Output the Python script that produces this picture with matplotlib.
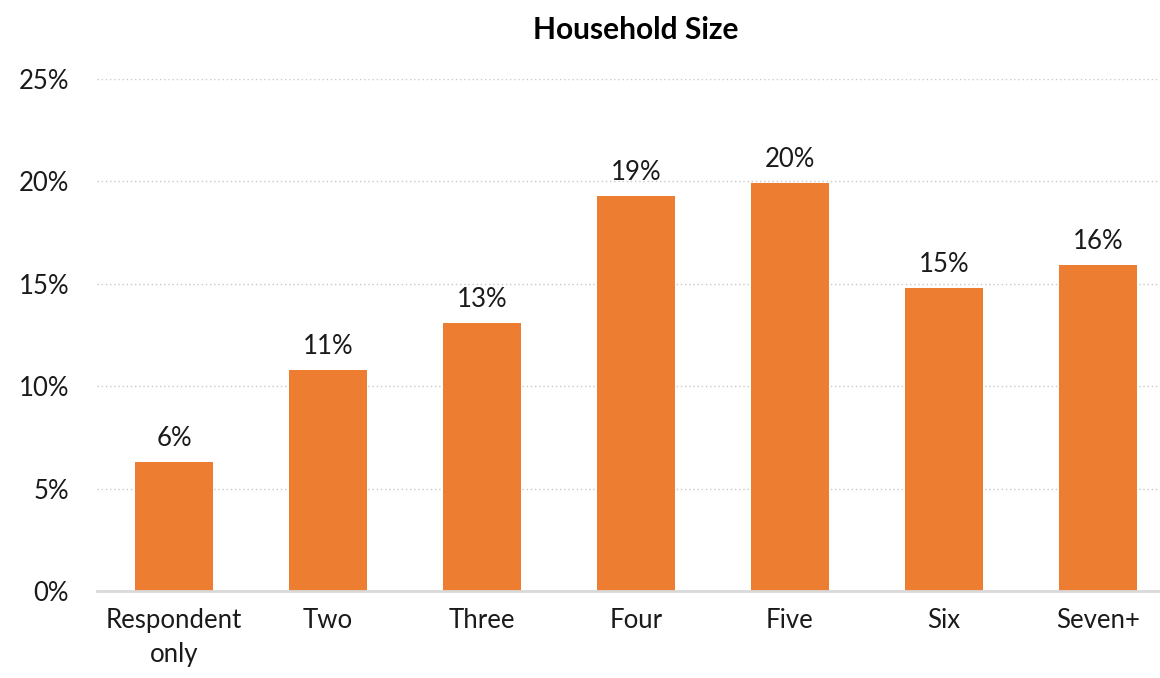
import matplotlib
matplotlib.use("Agg")
import matplotlib.pyplot as plt
from matplotlib.ticker import PercentFormatter

categories = ["Respondent\nonly", "Two", "Three", "Four", "Five", "Six", "Seven+"]
shares = [6.3, 10.8, 13.1, 19.3, 19.9, 14.8, 15.9]
labels = ["6%", "11%", "13%", "19%", "20%", "15%", "16%"]

plt.rcParams["font.family"] = ["Lato", "DejaVu Sans"]

W, H = 1160, 678
fig = plt.figure(figsize=(W / 100, H / 100), dpi=100)
ax = fig.add_axes([97 / W, (H - 591) / H, 1078 / W, 512 / H])

x = range(len(categories))
ax.bar(x, shares, width=0.51, color="#ED7D31", zorder=3)
for i, (v, t) in enumerate(zip(shares, labels)):
    ax.annotate(t, (i, v), xytext=(0, 8), textcoords="offset points",
                ha="center", va="bottom", fontsize=18.5, color="#1a1a1a")

ax.set_xlim(-0.5, len(categories) - 0.5)
ax.set_ylim(0, 25)
ax.set_yticks([0, 5, 10, 15, 20, 25])
ax.yaxis.set_major_formatter(PercentFormatter(decimals=0))
ax.set_xticks(list(x))
ax.set_xticklabels(categories, fontsize=18.5, linespacing=1.45)
ax.tick_params(axis="both", colors="#1a1a1a")
ax.tick_params(axis="y", labelsize=18.5, length=0, pad=20)
ax.tick_params(axis="x", length=0, pad=12)
ax.grid(axis="y", color="#C8C8C8", linestyle=(0, (1, 2)), linewidth=1, zorder=0)
for s in ["top", "right", "left"]:
    ax.spines[s].set_visible(False)
ax.spines["bottom"].set_color("#D9D9D9")
ax.spines["bottom"].set_linewidth(2)
ax.spines["bottom"].set_zorder(4)

fig.text(636 / W, 1 - 30 / H, "Household Size", ha="center", va="center",
         fontsize=21.5, fontweight="bold")

fig.savefig("out.png", dpi=100)
